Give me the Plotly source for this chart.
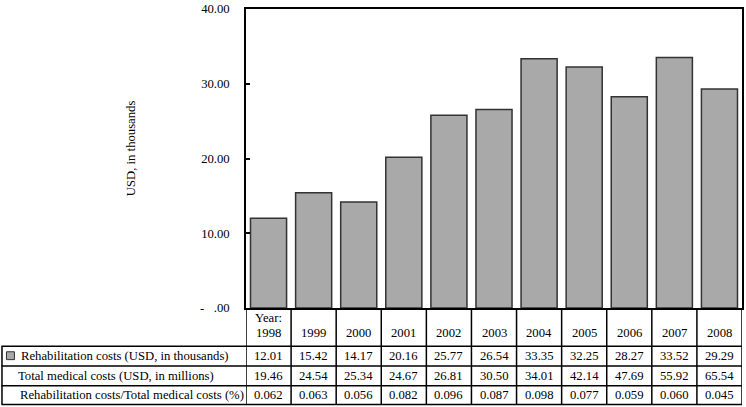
import plotly.graph_objects as go

years = ["1998", "1999", "2000", "2001", "2002", "2003", "2004", "2005", "2006", "2007", "2008"]
rehab_costs = [12.01, 15.42, 14.17, 20.16, 25.77, 26.54, 33.35, 32.25, 28.27, 33.52, 29.29]
total_medical = [19.46, 24.54, 25.34, 24.67, 26.81, 30.50, 34.01, 42.14, 47.69, 55.92, 65.54]
ratio_pct = [0.062, 0.063, 0.056, 0.082, 0.096, 0.087, 0.098, 0.077, 0.059, 0.060, 0.045]
row_labels = ["Rehabilitation costs (USD, in thousands)",
              "Total medical costs (USD, in millions)",
              "Rehabilitation costs/Total medical costs (%)"]
y_tickvals = [0, 10, 20, 30, 40]
y_ticktext = ["-\u00a0\u00a0\u00a0.00", "10.00", "20.00", "30.00", "40.00"]
y_title = "USD, in thousands"

W, H = 746, 407
ML, MR, MT, MB = 246, 2, 4, 99
PW = W - ML - MR
PH = H - MT - MB
FONT = "Times New Roman, Liberation Serif, serif"
FS = 12.7

def py(p):
    # pixel y -> paper y
    return (H - MB - p) / PH

def px(p):
    return (p - ML) / PW

n = len(years)
xs = list(range(n))

fig = go.Figure()
fig.add_trace(go.Bar(
    x=xs, y=rehab_costs, width=0.8,
    marker=dict(color="#a9a9a9", line=dict(color="#333333", width=1.5)),
    showlegend=False, hoverinfo="skip",
))

shapes = []
line = dict(color="black", width=1.5)
for p in [347, 367, 387, 406]:
    shapes.append(dict(type="line", xref="paper", yref="paper", x0=px(0.5), x1=1.0,
                       y0=py(p), y1=py(p), line=line, layer="above"))
for i in range(n + 1):
    shapes.append(dict(type="line", xref="x", yref="paper", x0=i - 0.5, x1=i - 0.5,
                       y0=0, y1=py(406), line=line, layer="above"))
shapes.append(dict(type="line", xref="paper", yref="paper", x0=px(1), x1=px(1),
                   y0=py(347), y1=py(406), line=line, layer="above"))
shapes.append(dict(type="rect", xref="paper", yref="paper", x0=px(5.5), x1=px(13.5),
                   y0=py(352.5), y1=py(360.5), fillcolor="#a9a9a9",
                   line=dict(color="#333333", width=1), layer="above"))

annotations = []
font = dict(family=FONT, size=FS, color="black")
for i, yr in enumerate(years):
    if i == 0:
        annotations.append(dict(x=i, y=py(318), xref="x", yref="paper", text="Year:",
                                showarrow=False, font=font, xanchor="center", yanchor="middle"))
    annotations.append(dict(x=i, y=py(333), xref="x", yref="paper", text=yr,
                            showarrow=False, font=font, xanchor="center", yanchor="middle"))
    annotations.append(dict(x=i, y=py(357), xref="x", yref="paper", text=f"{rehab_costs[i]:.2f}",
                            showarrow=False, font=font, xanchor="center", yanchor="middle"))
    annotations.append(dict(x=i, y=py(377), xref="x", yref="paper", text=f"{total_medical[i]:.2f}",
                            showarrow=False, font=font, xanchor="center", yanchor="middle"))
    annotations.append(dict(x=i, y=py(396.5), xref="x", yref="paper", text=f"{ratio_pct[i]:.3f}",
                            showarrow=False, font=font, xanchor="center", yanchor="middle"))

label_pos = [(18, 357), (15, 377), (17, 396.5)]
for lbl, (lx, ly) in zip(row_labels, label_pos):
    annotations.append(dict(x=px(lx), y=py(ly), xref="paper", yref="paper", text=lbl,
                            showarrow=False, font=font, xanchor="left", yanchor="middle"))

annotations.append(dict(x=px(130), y=py(145), xref="paper", yref="paper", text=y_title,
                        showarrow=False, font=font, textangle=-90,
                        xanchor="center", yanchor="middle"))

fig.update_layout(
    width=W, height=H,
    margin=dict(l=ML, r=MR, t=MT, b=MB, pad=0),
    paper_bgcolor="white", plot_bgcolor="white",
    font=font,
    bargap=0.2,
    shapes=shapes,
    annotations=annotations,
    xaxis=dict(range=[-0.5, n - 0.5], showticklabels=False, ticks="", showgrid=False,
               zeroline=False, showline=True, linecolor="black", linewidth=1.5, mirror=True,
               fixedrange=True),
    yaxis=dict(range=[0, 40], tickvals=y_tickvals, ticktext=y_ticktext, ticks="inside",
               ticklen=4, tickwidth=1.5, tickcolor="black", showgrid=False, zeroline=False,
               showline=True, linecolor="black", linewidth=1.5, mirror=True,
               ticklabelstandoff=12, ticklabeloverflow="allow", tickfont=font,
               fixedrange=True),
)

fig.write_html("out.html", config={"displayModeBar": False},
               post_script="document.body.style.margin='0';document.body.style.padding='0';")
